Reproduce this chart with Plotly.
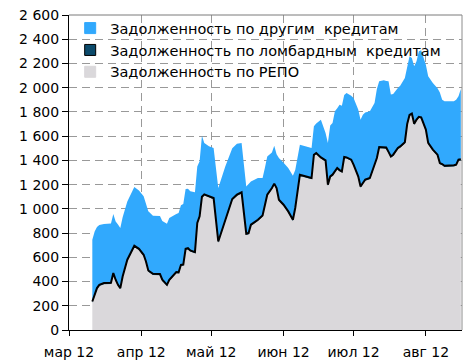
import plotly.graph_objects as go

# Задолженность банков по операциям рефинансирования, млрд руб.
dates = [
    "2012-03-11", "2012-03-12", "2012-03-13", "2012-03-14", "2012-03-16", "2012-03-19",
    "2012-03-20", "2012-03-21", "2012-03-22", "2012-03-23", "2012-03-24", "2012-03-26",
    "2012-03-29", "2012-03-31", "2012-04-02", "2012-04-03", "2012-04-04", "2012-04-06",
    "2012-04-09", "2012-04-10", "2012-04-12", "2012-04-13", "2012-04-15", "2012-04-16",
    "2012-04-17", "2012-04-18", "2012-04-19", "2012-04-20", "2012-04-21", "2012-04-22",
    "2012-04-24", "2012-04-25", "2012-04-26", "2012-04-27", "2012-04-28", "2012-04-30",
    "2012-05-02", "2012-05-04", "2012-05-07", "2012-05-10", "2012-05-12", "2012-05-14",
    "2012-05-16", "2012-05-17", "2012-05-18", "2012-05-21", "2012-05-23", "2012-05-24",
    "2012-05-25", "2012-05-27", "2012-05-28", "2012-05-29", "2012-05-30", "2012-06-01",
    "2012-06-03", "2012-06-05", "2012-06-06", "2012-06-08", "2012-06-11", "2012-06-13",
    "2012-06-14", "2012-06-15", "2012-06-17", "2012-06-19", "2012-06-20", "2012-06-21",
    "2012-06-22", "2012-06-23", "2012-06-24", "2012-06-25", "2012-06-26", "2012-06-27",
    "2012-06-28", "2012-06-30", "2012-07-01", "2012-07-03", "2012-07-04", "2012-07-05",
    "2012-07-06", "2012-07-08", "2012-07-10", "2012-07-11", "2012-07-12", "2012-07-14",
    "2012-07-15", "2012-07-16", "2012-07-17", "2012-07-18", "2012-07-20", "2012-07-21",
    "2012-07-23", "2012-07-24", "2012-07-25", "2012-07-26", "2012-07-27", "2012-07-28",
    "2012-07-29", "2012-07-30", "2012-08-01", "2012-08-02", "2012-08-04", "2012-08-06",
    "2012-08-07", "2012-08-08", "2012-08-09", "2012-08-13", "2012-08-14", "2012-08-15",
    "2012-08-16",
]

repo = [
    225, 281, 336, 363, 377, 380, 460, 405, 363, 336, 432, 570,
    685, 660, 611, 556, 481, 454, 452, 405, 363, 405, 446, 468,
    466, 528, 530, 660, 665, 647, 633, 873, 928, 1090, 1110, 1095,
    1079, 721, 900, 1071, 1107, 1126, 785, 790, 859, 900, 936, 1010,
    1107, 1162, 1198, 1162, 1065, 1024, 969, 900, 997, 1272, 1258, 1244,
    1437, 1451, 1415, 1390, 1189, 1258, 1272, 1300, 1327, 1310, 1299, 1418,
    1415, 1396, 1355, 1258, 1175, 1203, 1231, 1244, 1368, 1410, 1501, 1500,
    1497, 1460, 1423, 1437, 1492, 1505, 1540, 1690, 1765, 1776, 1693, 1726,
    1750, 1745, 1644, 1534, 1479, 1437, 1368, 1360, 1346, 1350, 1355, 1396,
    1400,
]

lombard = [
    10, 10, 10, 10, 10, 10, 10, 10, 10, 10, 10, 10,
    10, 10, 10, 10, 10, 10, 10, 10, 10, 10, 10, 10,
    10, 10, 10, 10, 10, 10, 10, 10, 10, 10, 10, 10,
    10, 10, 10, 10, 10, 10, 10, 10, 10, 10, 10, 10,
    10, 10, 10, 10, 10, 10, 10, 10, 10, 10, 10, 10,
    10, 10, 10, 10, 10, 10, 10, 10, 10, 10, 10, 10,
    10, 10, 10, 10, 10, 10, 10, 10, 10, 10, 10, 10,
    10, 10, 10, 10, 10, 10, 10, 10, 10, 10, 10, 10,
    10, 10, 10, 10, 10, 10, 10, 10, 10, 10, 10, 10,
    10,
]

other = [
    510, 523, 504, 494, 488, 490, 487, 481, 497, 495, 488, 480,
    485, 482, 482, 474, 489, 480, 478, 485, 503, 509, 495, 480,
    489, 492, 500, 494, 490, 488, 493, 467, 454, 504, 424, 411,
    413, 441, 440, 419, 421, 408, 390, 410, 356, 344, 308, 320,
    316, 293, 313, 278, 345, 346, 358, 364, 313, 248, 248, 248,
    234, 244, 311, 226, 345, 419, 427, 495, 493, 540, 541, 512,
    532, 528, 550, 551, 551, 564, 555, 551, 496, 570, 542, 551,
    548, 583, 510, 501, 496, 502, 530, 463, 484, 459, 474, 482,
    540, 555, 536, 550, 550, 548, 582, 531, 532, 528, 535, 523,
    580,
]

series_names = [
    "Задолженность по другим  кредитам",
    "Задолженность по ломбардным  кредитам",
    "Задолженность по РЕПО",
]

y_ticks = list(range(0, 2601, 200))
y_tick_text = ["0", "200", "400", "600", "800", "1 000", "1 200", "1 400",
               "1 600", "1 800", "2 000", "2 200", "2 400", "2 600"]

month_ticks = ["2012-03-01", "2012-04-01", "2012-05-01", "2012-06-01",
               "2012-07-01", "2012-08-01"]
month_labels = ["мар 12", "апр 12", "май 12", "июн 12", "июл 12", "авг 12"]

COL_OTHER = "#31A9FD"
COL_LOMB = "#0B4A6B"
COL_REPO = "#DAD8DB"
FONT = "DejaVu Sans"

fig = go.Figure()

# stacked areas: REPO at the bottom, lombard as a thin band with black edge, other on top
fig.add_trace(go.Scatter(
    x=dates, y=repo, stackgroup="debt", mode="lines",
    line=dict(width=0), fillcolor=COL_REPO, showlegend=False, name=series_names[2],
))
fig.add_trace(go.Scatter(
    x=dates, y=lombard, stackgroup="debt", mode="lines",
    line=dict(width=2, color="black"), fillcolor=COL_LOMB, showlegend=False,
    name=series_names[1],
))
fig.add_trace(go.Scatter(
    x=dates, y=other, stackgroup="debt", mode="lines",
    line=dict(width=0), fillcolor=COL_OTHER, showlegend=False, name=series_names[0],
))

# legend entries with square keys
legend_styles = [
    (series_names[0], COL_OTHER, COL_OTHER),
    (series_names[1], COL_LOMB, "black"),
    (series_names[2], COL_REPO, COL_REPO),
]
for name, fill, edge in legend_styles:
    fig.add_trace(go.Scatter(
        x=[None], y=[None], mode="markers", name=name,
        marker=dict(symbol="square", size=11, color=fill, line=dict(width=1, color=edge)),
    ))

grid = dict(showgrid=True, gridcolor="#999999", gridwidth=1, griddash="8px,5px")

fig.update_xaxes(
    type="date", range=["2012-03-01", "2012-08-16 12:00"],
    tickvals=month_ticks, ticktext=month_labels,
    ticks="outside", ticklen=5, tickcolor="black", ticklabelstandoff=4,
    showline=True, linecolor="black", linewidth=1, automargin=False,
    tickfont=dict(family=FONT, size=14, color="black"),
    zeroline=False, **grid,
)
fig.update_yaxes(
    range=[0, 2600], tickvals=y_ticks, ticktext=y_tick_text,
    ticks="outside", ticklen=6, tickcolor="black",
    showline=True, linecolor="black", linewidth=1, automargin=False,
    tickfont=dict(family=FONT, size=14, color="black"),
    zeroline=False, **grid,
)

fig.update_layout(
    width=474, height=362,
    margin=dict(l=69, r=12, t=15, b=32),
    paper_bgcolor="white", plot_bgcolor="white",
    font=dict(family=FONT, size=14, color="black"),
    legend=dict(
        x=0.003, y=1.009, xanchor="left", yanchor="top", traceorder="normal",
        bgcolor="rgba(0,0,0,0)", font=dict(family=FONT, size=14.5, color="black"),
        tracegroupgap=0,
    ),
    shapes=[
        # clear area behind the legend (grid hidden, areas still drawn over it)
        dict(type="rect", xref="paper", yref="y", x0=0.002, x1=0.975, y0=2015, y1=2600,
             fillcolor="white", line=dict(width=0), layer="between"),
        # thin frame on top and right of the plot area
        dict(type="line", xref="paper", yref="paper", x0=0, x1=1, y0=1, y1=1,
             line=dict(color="#7A7A7A", width=1), layer="above"),
        dict(type="line", xref="paper", yref="paper", x0=1, x1=1, y0=0, y1=1,
             line=dict(color="#8C8C8C", width=1), layer="above"),
    ],
)

fig.write_html("out.html")
